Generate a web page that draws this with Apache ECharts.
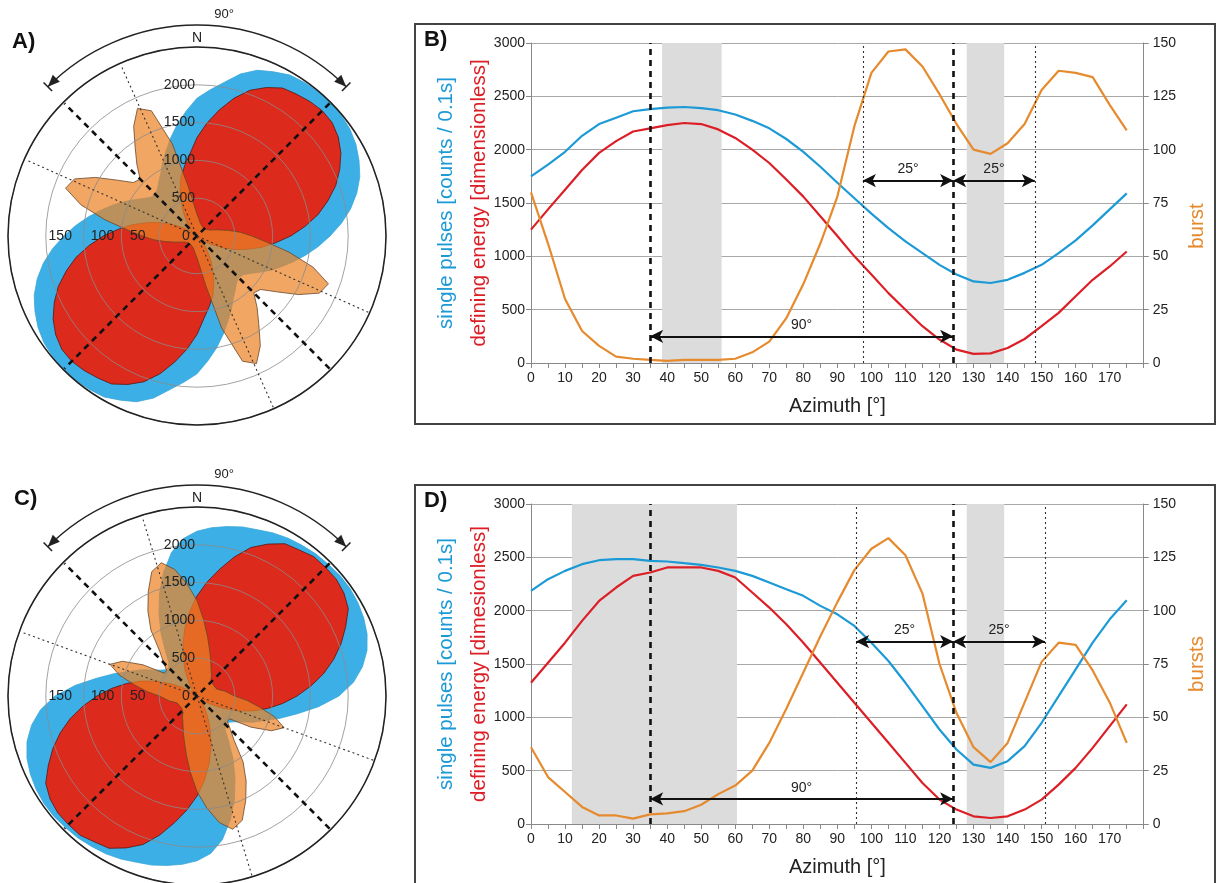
<!DOCTYPE html>
<html><head><meta charset="utf-8">
<script src="https://cdn.jsdelivr.net/npm/echarts@6/dist/echarts.min.js"></script>
<style>html,body{margin:0;padding:0;background:#fff}#c{width:1216px;height:883px}</style>
</head><body><div id="c"></div>
<script>
// ---------- DATA ----------
const azimuth = [0,5,10,15,20,25,30,35,40,45,50,55,60,65,70,75,80,85,90,95,100,105,110,115,120,125,130,135,140,145,150,155,160,165,170,175];
// Panel B
const pulsesB = [1750,1860,1980,2130,2240,2300,2360,2380,2395,2400,2390,2370,2330,2270,2200,2100,1980,1840,1690,1545,1400,1265,1140,1030,920,830,765,750,780,845,920,1030,1150,1290,1440,1590];
const energyB = [1250,1440,1625,1810,1970,2080,2170,2200,2230,2250,2240,2190,2110,2000,1875,1720,1560,1375,1190,1000,830,655,500,345,220,125,85,90,140,225,345,470,625,780,905,1045];
const burstB  = [80,56,30,15,8,3,2,1.5,1,1.5,1.5,1.5,2,5,10,21,37,56,78,111,136,146,147,139,126,112,100,98,103,112,128,137,136,134,121,109];
// Panel D
const pulsesD = [2185,2295,2373,2436,2473,2483,2483,2467,2461,2445,2430,2405,2373,2326,2264,2201,2139,2045,1966,1857,1700,1528,1324,1105,886,698,557,526,589,730,949,1199,1450,1700,1919,2098];
const energyD = [1324,1512,1700,1904,2091,2217,2326,2358,2405,2405,2405,2373,2311,2170,2029,1872,1700,1512,1324,1137,949,761,573,385,229,135,72,56,72,135,229,369,526,714,917,1121];
const burstD  = [36,22,15,8,4,4,2.5,4.5,5,6,9,14,18,25,38,54,71,88,104,119,129,134,126,108,75,52,36,29,38,57,76,85,84,72,57,38];
const roseBurstA = [23,19,16,14,13,12,11,11,11,11,11,12,13,15,19,25,34,46,58,74,99,127,148,143,124,103,88,85,99,114,134,149,141,101,53,32];
const roseBurstC = [101,81,64,51,42,35,30,27,23,22,21,21,21,21,22,25,30,34,40,53,67,85,98,87,66,42,42,50,61,85,104,122,140,146,136,119];
const rosePulsesC = [2180,2235,2275,2315,2340,2380,2410,2430,2450,2460,2474,2474,2460,2434,2394,2328,2222,2077,1878,1614,1349,1138,950,820,690,595,540,530,580,730,950,1190,1450,1700,1930,2090];
// Tick labels of the rose diagrams
const roseRingTicks = [500,1000,1500,2000];
const roseBurstTicks = [0,50,100,150];
// Annotations
const bandsB = [[38.5,56],[128,139]];
const bandsD = [[12,60.5],[128,139]];
const thickB = [35,124], thinB = [97.5,148];
const thickD = [35,124], thinD = [95.5,151];
const arrowsB = [[35,124,250,'90°'],[97.5,124,1710,'25°'],[124,148,1710,'25°']];
const arrowsD = [[35,124,235,'90°'],[95.5,124,1710,'25°'],[124,151,1710,'25°']];
const roseThickA = [45,135], roseThinA = [114,156];
const roseThickC = [45,135], roseThinC = [110,163];

// ---------- STYLE / LAYOUT ----------
const FONT = '"Liberation Sans", Arial, sans-serif';
const C_BLUE = '#1c9ad6', C_RED = '#dc1f26', C_ORANGE = '#e68a2e';
const centerA = [197,236], centerC = [197,696], R = 189;

function pairs(vals){ return azimuth.map((a,i)=>[a, vals[i]]); }
function rose(vals, shift){
  const pts = [];
  for (let k=0;k<2;k++) azimuth.forEach((a,i)=>pts.push([vals[i], (a+180*k+shift)%360]));
  pts.push(pts[0].slice());
  return pts;
}
function roseSeries(polarIndex, data, fill, stroke, opacity, z){
  return {type:'line', coordinateSystem:'polar', polarIndex, data, symbol:'none', silent:true, clip:false, z,
    lineStyle:{color:stroke, width:0.8}, areaStyle:{color:fill, opacity}};
}
function radial(polarIndex, az, r, style, z){
  return {type:'line', coordinateSystem:'polar', polarIndex, data:[[r,az],[r,az+180]], symbol:'none', silent:true, clip:false, z, lineStyle:style};
}
const thickStyle = {type:[6,5], width:2.6, color:'#111'};
const thinStyle = {type:[2,3], width:1.1, color:'#333'};

function polarSet(center){
  return [{center, radius:R},{center, radius:R},{center, radius:R}];
}
function angleSet(base){
  return [
    {polarIndex:base, type:'value', min:0, max:360, startAngle:90, clockwise:true, z:20,
      axisLine:{show:true, lineStyle:{color:'#222', width:1.5}}, axisTick:{show:false}, axisLabel:{show:false}, splitLine:{show:false}},
    {polarIndex:base+1, type:'value', min:0, max:360, startAngle:90, clockwise:true,
      axisLine:{show:false}, axisTick:{show:false}, axisLabel:{show:false}, splitLine:{show:false}},
    {polarIndex:base+2, type:'value', min:0, max:360, startAngle:180, clockwise:true,
      axisLine:{show:false}, axisTick:{show:false}, axisLabel:{show:false}, splitLine:{show:false}}
  ];
}
function burstLabel(v){
  if (roseBurstTicks.indexOf(v) < 0) return '';
  if (v === 0) return '{r0|0}';
  if (v === 50) return '{r1|50}';
  if (v === 150) return '{l1|150}';
  return String(v);
}
function radiusSet(base, pmax){
  return [
    {polarIndex:base, type:'value', min:0, max:2500, interval:500, z:10,
      axisLine:{show:false}, axisTick:{show:false},
      axisLabel:{show:true, fontSize:14, color:'#222', fontFamily:FONT, margin:2, formatter:v=>roseRingTicks.indexOf(v)>=0?String(v):''},
      splitLine:{show:true, lineStyle:{color:'#8a8a8a', width:0.8}}},
    {polarIndex:base+1, type:'value', min:0, max:pmax,
      axisLine:{show:false}, axisTick:{show:false}, axisLabel:{show:false}, splitLine:{show:false}},
    {polarIndex:base+2, type:'value', min:0, max:200, interval:50, z:10,
      axisLine:{show:false}, axisTick:{show:false},
      axisLabel:{show:true, fontSize:14, color:'#222', fontFamily:FONT, margin:-7, formatter:burstLabel,
        rich:{r0:{fontSize:14, color:'#222', fontFamily:FONT, padding:[0,22,0,0]},
              r1:{fontSize:14, color:'#222', fontFamily:FONT, padding:[0,24,0,0]},
              l1:{fontSize:14, color:'#222', fontFamily:FONT, padding:[0,0,0,10]}}},
      splitLine:{show:false}}
  ];
}
function roseSeriesSet(base, pulses, energy, burst, thick, thin){
  const s = [
    roseSeries(base+1, rose(pulses,0), '#3cb0e6', '#3aa6d8', 1, 2),
    roseSeries(base+1, rose(energy,0), '#dc2a1c', '#5a1510', 1, 3),
    roseSeries(base+2, rose(burst,90), 'rgb(236,132,40)', '#6b4526', 0.72, 4)
  ];
  thick.forEach(a=>s.push(radial(base, a, 2480, thickStyle, 12)));
  thin.forEach(a=>s.push(radial(base, a, 2480, thinStyle, 12)));
  return s;
}

function xAxisDef(gi){
  return {gridIndex:gi, type:'value', min:0, max:180, interval:10,
    axisLine:{show:true, lineStyle:{color:'#888', width:1}},
    axisTick:{show:true, length:5, lineStyle:{color:'#888'}},
    minorTick:{show:true, splitNumber:2, length:5, lineStyle:{color:'#888'}},
    axisLabel:{fontSize:14, color:'#222', fontFamily:FONT, margin:8, formatter:v=>v>=180?'':String(v)},
    splitLine:{show:false},
    name:'Azimuth [°]', nameLocation:'middle', nameGap:33,
    nameTextStyle:{fontSize:20, color:'#222', fontFamily:FONT}};
}
function yLeft(gi, unitWord){
  return {gridIndex:gi, type:'value', min:0, max:3000, interval:500, position:'left',
    axisLine:{show:true, lineStyle:{color:'#888'}}, axisTick:{show:true, length:5, lineStyle:{color:'#888'}},
    axisLabel:{fontSize:14, color:'#222', fontFamily:FONT, margin:6, formatter:v=>String(v)},
    splitLine:{show:true, lineStyle:{color:'#a8a8a8', width:1}},
    name:'{a|single pulses [counts / 0.1s]}\n{b|defining energy ['+unitWord+']}',
    nameLocation:'middle', nameRotate:90, nameGap:35, nameMoveOverlap:false,
    nameTextStyle:{rich:{a:{color:C_BLUE, fontSize:20.5, lineHeight:33, fontFamily:FONT}, b:{color:C_RED, fontSize:20.5, lineHeight:33, fontFamily:FONT}}}};
}
function yRight(gi, nm, shiftDown){
  return {gridIndex:gi, type:'value', min:0, max:150, interval:25, position:'right',
    axisLine:{show:true, lineStyle:{color:'#888'}}, axisTick:{show:true, length:5, lineStyle:{color:'#888'}},
    axisLabel:{fontSize:14, color:'#222', fontFamily:FONT, margin:9, formatter:v=>String(v)},
    splitLine:{show:false},
    name:nm, nameLocation:'middle', nameRotate:90, nameGap:42,
    nameTextStyle:{color:C_ORANGE, fontSize:20.5, fontFamily:FONT, padding:[0, shiftDown*2, 0, 0]}};
}
function lineSeries(xi, yi, vals, color, z){
  return {type:'line', xAxisIndex:xi, yAxisIndex:yi, data:pairs(vals), symbol:'none', silent:true, z,
    lineStyle:{color, width:2.2}};
}
function markerSeries(xi, yi, bands, thick, thin, arrows){
  const lbl = {show:true, position:'middle', color:'#222', fontSize:14, fontFamily:FONT, distance:4};
  return [
    {type:'line', xAxisIndex:xi, yAxisIndex:yi, data:[], silent:true, z:1,
      markArea:{silent:true, itemStyle:{color:'#dcdcdc'}, label:{show:false},
        data:bands.map(b=>[{xAxis:b[0], yAxis:0},{xAxis:b[1], yAxis:3000}])}},
    {type:'line', xAxisIndex:xi, yAxisIndex:yi, data:[], silent:true, z:4,
      markLine:{silent:true, symbol:'none', label:{show:false},
        data:[...thick.map(x=>({xAxis:x, lineStyle:thickStyle})), ...thin.map(x=>({xAxis:x, lineStyle:thinStyle}))]}},
    {type:'line', xAxisIndex:xi, yAxisIndex:yi, data:[], silent:true, z:6,
      markLine:{silent:true, symbol:['arrow','arrow'], symbolSize:[10,13], precision:1,
        lineStyle:{type:'solid', width:2, color:'#111'}, label:lbl,
        data:arrows.map(a=>[{coord:[a[0],a[2]], label:{formatter:a[3]}},{coord:[a[1],a[2]]}])}}
  ];
}

function decorations(c){
  const els = [];
  const r = 211, s = 225*Math.PI/180, e = 315*Math.PI/180;
  els.push({type:'arc', shape:{cx:c[0], cy:c[1], r, startAngle:s, endAngle:e, clockwise:true}, style:{stroke:'#222', lineWidth:1.4, fill:null}, silent:true});
  [[s,-1],[e,1]].forEach(([ang,dir])=>{
    const px = c[0]+r*Math.cos(ang), py = c[1]+r*Math.sin(ang);
    const ux = dir*(-Math.sin(ang)), uy = dir*Math.cos(ang);
    const nx = Math.cos(ang), ny = Math.sin(ang);
    els.push({type:'polygon', silent:true, shape:{points:[[px,py],[px-12*ux+5*nx, py-12*uy+5*ny],[px-12*ux-5*nx, py-12*uy-5*ny]]}, style:{fill:'#222'}});
    els.push({type:'line', silent:true, shape:{x1:px-6*nx, y1:py-6*ny, x2:px+6*nx, y2:py+6*ny}, style:{stroke:'#222', lineWidth:1.6}});
  });
  els.push({type:'text', silent:true, x:c[0], y:c[1]-198, style:{text:'N', align:'center', verticalAlign:'middle', font:'14px '+FONT, fill:'#222'}});
  els.push({type:'text', silent:true, x:c[0]+27, y:c[1]-222, style:{text:'90°', align:'center', verticalAlign:'middle', font:'13px '+FONT, fill:'#222'}});
  return els;
}

const graphics = [
  {type:'rect', silent:true, shape:{x:415, y:24, width:800, height:400}, style:{fill:null, stroke:'#444', lineWidth:2}},
  {type:'rect', silent:true, shape:{x:415, y:485, width:800, height:420}, style:{fill:null, stroke:'#444', lineWidth:2}},
  {type:'text', silent:true, x:12, y:31, style:{text:'A)', font:'bold 22px '+FONT, fill:'#111'}},
  {type:'text', silent:true, x:424, y:29, style:{text:'B)', font:'bold 22px '+FONT, fill:'#111'}},
  {type:'text', silent:true, x:14, y:488, style:{text:'C)', font:'bold 22px '+FONT, fill:'#111'}},
  {type:'text', silent:true, x:424, y:490, style:{text:'D)', font:'bold 22px '+FONT, fill:'#111'}},
  ...decorations(centerA), ...decorations(centerC)
];

const option = {
  animation:false,
  backgroundColor:'#fff',
  textStyle:{fontFamily:FONT},
  grid:[{left:531, top:43, width:615, height:320},{left:531, top:504, width:615, height:320}],
  xAxis:[xAxisDef(0), xAxisDef(1)],
  yAxis:[yLeft(0,'dimensionless'), yRight(0,'burst',23), yLeft(1,'dimesionless'), yRight(1,'bursts',0)],
  polar:[...polarSet(centerA), ...polarSet(centerC)],
  angleAxis:[...angleSet(0), ...angleSet(3)],
  radiusAxis:[...radiusSet(0, 2400), ...radiusSet(3, 2500)],
  series:[
    ...markerSeries(0,0,bandsB,thickB,thinB,arrowsB),
    lineSeries(0,0,pulsesB,C_BLUE,3), lineSeries(0,0,energyB,C_RED,3), lineSeries(0,1,burstB,C_ORANGE,3),
    ...markerSeries(1,2,bandsD,thickD,thinD,arrowsD),
    lineSeries(1,2,pulsesD,C_BLUE,3), lineSeries(1,2,energyD,C_RED,3), lineSeries(1,3,burstD,C_ORANGE,3),
    ...roseSeriesSet(0, pulsesB, energyB, roseBurstA, roseThickA, roseThinA),
    ...roseSeriesSet(3, rosePulsesC, energyD, roseBurstC, roseThickC, roseThinC)
  ],
  graphic:graphics
};
const chart = echarts.init(document.getElementById('c'), null, {width:1216, height:883});
chart.setOption(option);
</script>
</body></html>
